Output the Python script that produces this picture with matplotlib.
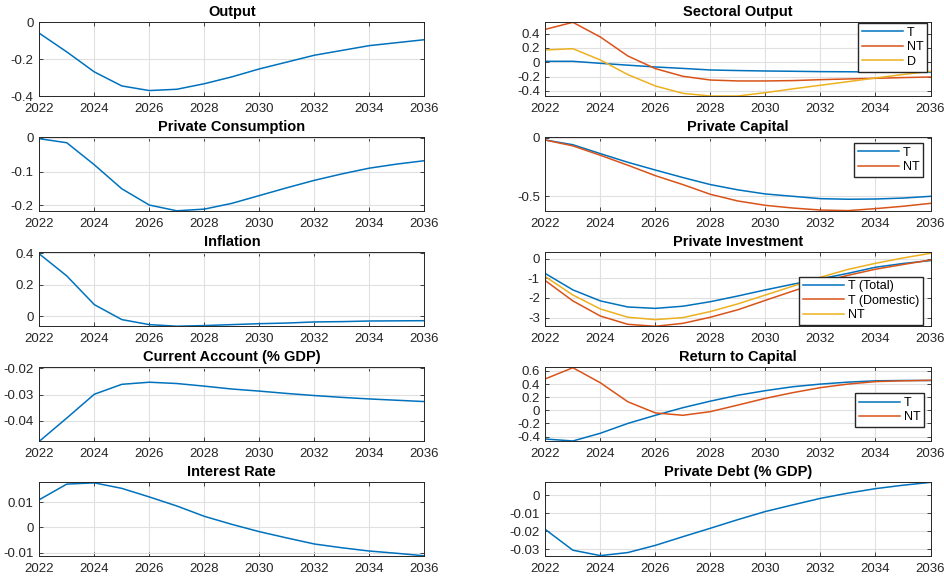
import numpy as np
import matplotlib
matplotlib.use("Agg")
import matplotlib.pyplot as plt

plt.rcParams['font.family'] = ['Liberation Sans', 'DejaVu Sans']

years = np.arange(2022, 2037)

output = [-0.059, -0.16, -0.268, -0.344, -0.369, -0.362, -0.332, -0.295, -0.252,
          -0.215, -0.178, -0.152, -0.126, -0.11, -0.094]
consumption = [-0.003, -0.015, -0.08, -0.151, -0.199, -0.216, -0.211, -0.194, -0.171,
               -0.148, -0.126, -0.107, -0.090, -0.078, -0.068]
inflation = [0.396, 0.256, 0.074, -0.021, -0.053, -0.063, -0.059, -0.053, -0.047,
             -0.043, -0.036, -0.034, -0.030, -0.029, -0.028]
current_account = [-0.0479, -0.039, -0.0299, -0.0261, -0.0253, -0.0258, -0.0268, -0.0279,
                   -0.0287, -0.0296, -0.0304, -0.0311, -0.0317, -0.0322, -0.0327]
interest_rate = [0.0110, 0.0172, 0.0177, 0.0155, 0.0121, 0.0085, 0.0044, 0.0012, -0.0017,
                 -0.0042, -0.0066, -0.0081, -0.0094, -0.0103, -0.0113]

sect_T = [0.014, 0.014, -0.014, -0.04, -0.065, -0.085, -0.107, -0.115, -0.121,
          -0.125, -0.13, -0.132, -0.135, -0.137, -0.14]
sect_NT = [0.46, 0.558, 0.353, 0.088, -0.088, -0.195, -0.247, -0.26, -0.26,
           -0.255, -0.242, -0.232, -0.223, -0.213, -0.205]
sect_D = [0.172, 0.19, 0.033, -0.172, -0.33, -0.433, -0.47, -0.47, -0.423,
          -0.37, -0.32, -0.27, -0.219, -0.17, -0.126]

cap_T = [-0.02, -0.06, -0.136, -0.21, -0.276, -0.34, -0.40, -0.445, -0.48,
         -0.50, -0.52, -0.525, -0.523, -0.515, -0.50]
cap_NT = [-0.02, -0.07, -0.15, -0.235, -0.324, -0.40, -0.483, -0.54, -0.577,
          -0.60, -0.617, -0.622, -0.605, -0.585, -0.56]

inv_T_total = [-0.76, -1.59, -2.15, -2.46, -2.53, -2.42, -2.19, -1.9, -1.59,
               -1.3, -1.03, -0.75, -0.44, -0.25, -0.10]
inv_T_dom = [-1.12, -2.15, -2.92, -3.34, -3.44, -3.29, -2.98, -2.6, -2.12,
             -1.65, -1.2, -0.85, -0.54, -0.3, -0.07]
inv_NT = [-0.92, -1.85, -2.56, -2.98, -3.10, -3.0, -2.69, -2.3, -1.85,
          -1.4, -0.95, -0.55, -0.24, 0.03, 0.27]

ret_T = [-0.438, -0.468, -0.35, -0.2, -0.076, 0.04, 0.14, 0.23, 0.30,
         0.36, 0.40, 0.43, 0.45, 0.455, 0.455]
ret_NT = [0.48, 0.65, 0.42, 0.13, -0.04, -0.076, -0.02, 0.08, 0.183,
          0.27, 0.346, 0.40, 0.438, 0.45, 0.458]

private_debt = [-0.019, -0.0305, -0.0335, -0.0318, -0.0278, -0.023, -0.0183, -0.0135,
                -0.009, -0.0053, -0.0017, 0.0012, 0.0037, 0.0056, 0.0072]

blue = (0.0, 0.447, 0.741)
red = (0.85, 0.325, 0.098)
yellow = (0.929, 0.694, 0.125)
dark = (0.15, 0.15, 0.15)

fig = plt.figure(figsize=(9.44, 5.78), dpi=100)

bottoms = [0.8334, 0.635, 0.4355, 0.2365, 0.0375]
h = 0.128
w = 0.408
lefts = [0.0416, 0.5777]


def make_ax(row, col, title, ylim, yticks, yticklabels):
    ax = fig.add_axes([lefts[col], bottoms[row], w, h])
    ax.set_xlim(2022, 2036)
    ax.set_xticks(range(2022, 2037, 2))
    ax.set_ylim(*ylim)
    ax.set_yticks(yticks)
    ax.set_yticklabels(yticklabels)
    ax.grid(True, color=(0.88, 0.88, 0.88), linewidth=0.8)
    ax.set_axisbelow(True)
    ax.tick_params(direction='in', length=3, width=0.6, colors=dark,
                   labelsize=9.5, top=True, right=True)
    ax.tick_params(axis='x', pad=5)
    ax.tick_params(axis='y', pad=4)
    for s in ax.spines.values():
        s.set_color(dark)
        s.set_linewidth(0.7)
    ax.set_title(title, fontsize=10.5, fontweight='bold', pad=4.5)
    return ax


lw = 1.1

ax = make_ax(0, 0, 'Output', (-0.4, 0), [-0.4, -0.2, 0], ['-0.4', '-0.2', '0'])
ax.plot(years, output, color=blue, lw=lw)

ax = make_ax(1, 0, 'Private Consumption', (-0.2165, 0.002), [-0.2, -0.1, 0], ['-0.2', '-0.1', '0'])
ax.plot(years, consumption, color=blue, lw=lw)

ax = make_ax(2, 0, 'Inflation', (-0.0635, 0.406), [0, 0.2, 0.4], ['0', '0.2', '0.4'])
ax.plot(years, inflation, color=blue, lw=lw)

ax = make_ax(3, 0, 'Current Account (% GDP)', (-0.0479, -0.0196), [-0.04, -0.03, -0.02],
             ['-0.04', '-0.03', '-0.02'])
ax.plot(years, current_account, color=blue, lw=lw)

ax = make_ax(4, 0, 'Interest Rate', (-0.0115, 0.0179), [-0.01, 0, 0.01], ['-0.01', '0', '0.01'])
ax.plot(years, interest_rate, color=blue, lw=lw)

leg_kw = dict(fontsize=9, fancybox=False, framealpha=1, edgecolor=dark,
              handlelength=3.3, handletextpad=0.3, borderpad=0.3,
              labelspacing=0.2, borderaxespad=0, bbox_transform=fig.transFigure)

ax = make_ax(0, 1, 'Sectoral Output', (-0.474, 0.558), [-0.4, -0.2, 0, 0.2, 0.4],
             ['-0.4', '-0.2', '0', '0.2', '0.4'])
ax.plot(years, sect_T, color=blue, lw=lw, label='T')
ax.plot(years, sect_NT, color=red, lw=lw, label='NT')
ax.plot(years, sect_D, color=yellow, lw=lw, label='D')
ax.legend(loc='upper right', bbox_to_anchor=(0.982, 0.960), **leg_kw)

ax = make_ax(1, 1, 'Private Capital', (-0.625, 0.006), [-0.5, 0], ['-0.5', '0'])
ax.plot(years, cap_T, color=blue, lw=lw, label='T')
ax.plot(years, cap_NT, color=red, lw=lw, label='NT')
ax.legend(loc='upper right', bbox_to_anchor=(0.978, 0.753), **leg_kw)

ax = make_ax(2, 1, 'Private Investment', (-3.44, 0.32), [-3, -2, -1, 0], ['-3', '-2', '-1', '0'])
ax.plot(years, inv_T_total, color=blue, lw=lw, label='T (Total)')
ax.plot(years, inv_T_dom, color=red, lw=lw, label='T (Domestic)')
ax.plot(years, inv_NT, color=yellow, lw=lw, label='NT')
ax.legend(loc='lower right', bbox_to_anchor=(0.978, 0.4377), **leg_kw)

ax = make_ax(3, 1, 'Return to Capital', (-0.473, 0.656), [-0.4, -0.2, 0, 0.2, 0.4, 0.6],
             ['-0.4', '-0.2', '0', '0.2', '0.4', '0.6'])
ax.plot(years, ret_T, color=blue, lw=lw, label='T')
ax.plot(years, ret_NT, color=red, lw=lw, label='NT')
ax.legend(loc='lower right', bbox_to_anchor=(0.979, 0.261), **leg_kw)

ax = make_ax(4, 1, 'Private Debt (% GDP)', (-0.0339, 0.0072), [-0.03, -0.02, -0.01, 0],
             ['-0.03', '-0.02', '-0.01', '0'])
ax.plot(years, private_debt, color=blue, lw=lw)

fig.savefig('out.png', dpi=100)
